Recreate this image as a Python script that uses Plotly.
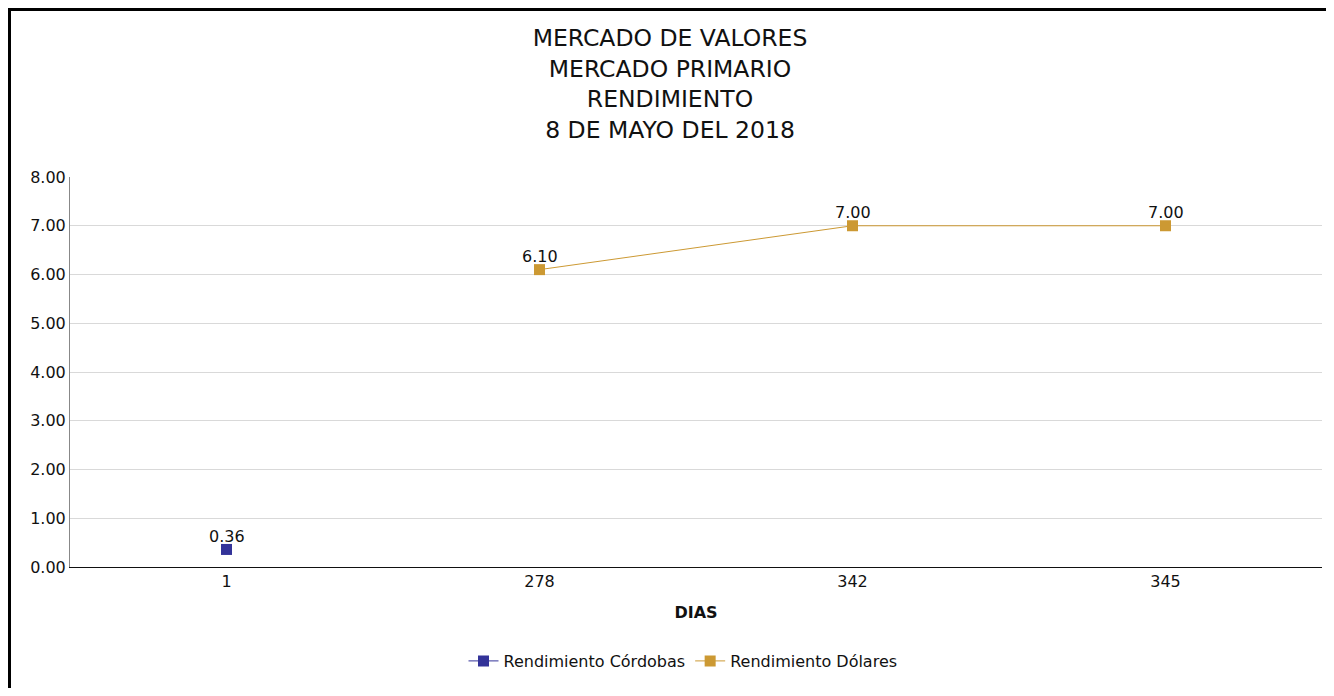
import plotly.graph_objects as go

# Data
categories = ["1", "278", "342", "345"]
cordobas_x = ["1"]
cordobas_y = [0.36]
dolares_x = ["278", "342", "345"]
dolares_y = [6.10, 7.00, 7.00]
y_ticks = [0, 1, 2, 3, 4, 5, 6, 7, 8]

FONT = "Tahoma, DejaVu Sans, sans-serif"
C_COR = "#333399"
C_DOL = "#CC9933"

fig = go.Figure()
fig.add_trace(go.Scatter(
    x=cordobas_x, y=cordobas_y, name="Rendimiento Córdobas",
    mode="lines+markers",
    line=dict(color=C_COR, width=1),
    marker=dict(symbol="square", size=11, color=C_COR),
))
fig.add_trace(go.Scatter(
    x=dolares_x, y=dolares_y, name="Rendimiento Dólares",
    mode="lines+markers",
    line=dict(color=C_DOL, width=1),
    marker=dict(symbol="square", size=11, color=C_DOL),
))

# data labels just above the markers (category axis -> position by category index)
for xs, ys in ((cordobas_x, cordobas_y), (dolares_x, dolares_y)):
    for xv, yv in zip(xs, ys):
        fig.add_annotation(
            x=categories.index(xv), y=yv, xref="x", yref="y", text=f"{yv:.2f}",
            showarrow=False, yanchor="middle", yshift=13,
            font=dict(size=16, color="#111111", family=FONT),
        )

OFF = 8  # page body margin
W, H = 1318, 680
# plot area in screen pixels: x 70..1322, y 177..567
L = 70 - OFF
T = 177 - OFF
R = W - (1322 - OFF)
B = H - (567 - OFF)
pw, ph = W - L - R, H - T - B

def px_x(sx):
    return (sx - OFF - L) / pw

def px_y(sy):
    return (H - B - (sy - OFF)) / ph

fig.update_layout(
    width=W, height=H,
    margin=dict(l=L, r=R, t=T, b=B),
    paper_bgcolor="white", plot_bgcolor="white",
    font=dict(family=FONT, size=16, color="#111111"),
    title=dict(
        text="MERCADO DE VALORES<br>MERCADO PRIMARIO<br>RENDIMIENTO<br>8 DE MAYO DEL 2018",
        x=(670 - OFF) / W, xanchor="center", xref="container",
        y=1 - (46 - OFF) / H, yanchor="top", yref="container",
        font=dict(size=23.5, family=FONT, color="#111111"),
    ),
    xaxis=dict(
        type="category", categoryorder="array", categoryarray=categories,
        range=[-0.5, 3.5],
        showgrid=False, showline=True, linecolor="#111111", linewidth=1,
        ticks="", tickfont=dict(size=16),
        title=dict(text="<b>DIAS</b>", font=dict(size=16), standoff=16),
    ),
    yaxis=dict(
        range=[0, 8], tickvals=y_ticks, tickformat=".2f",
        showgrid=True, gridcolor="#d9d9d9", gridwidth=1,
        showline=True, linecolor="#888888", linewidth=1,
        zeroline=False, ticks="", tickfont=dict(size=16),
    ),
    legend=dict(
        orientation="h", x=px_x(683), xanchor="center",
        y=px_y(661), yanchor="middle",
        font=dict(size=16), itemwidth=30,
    ),
    showlegend=True,
)

fig.add_shape(
    type="rect", xref="paper", yref="paper",
    x0=px_x(9.5), x1=px_x(1360), y0=px_y(720), y1=px_y(9.5),
    line=dict(color="black", width=3), fillcolor="rgba(0,0,0,0)", layer="above",
)

fig.write_html("out.html")
